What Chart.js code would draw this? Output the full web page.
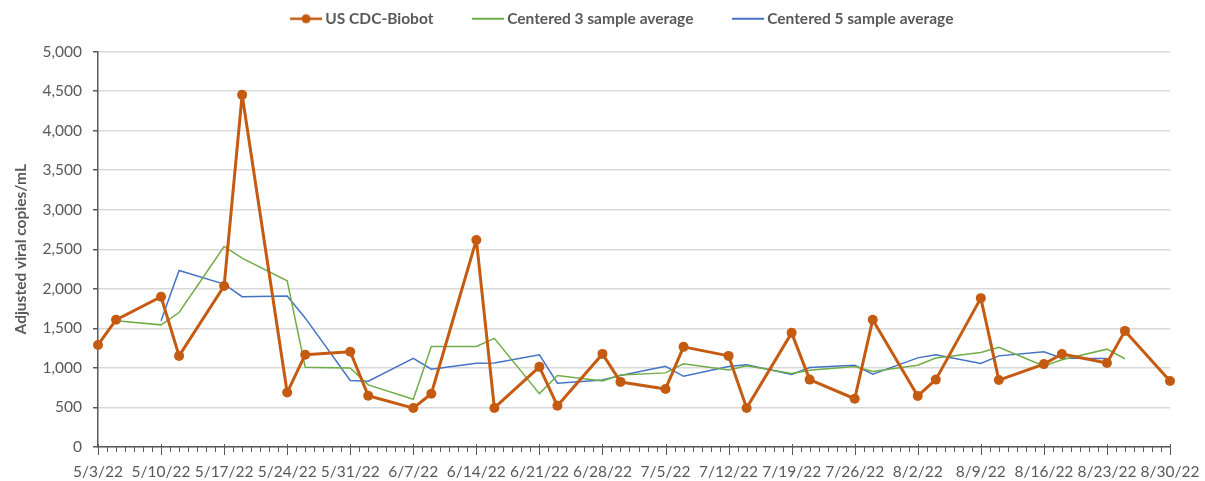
<!DOCTYPE html>
<html>
<head>
<meta charset="utf-8">
<script src="https://cdn.jsdelivr.net/npm/chart.js@4.4.1/dist/chart.umd.min.js"></script>
<style>
  html, body { margin: 0; padding: 0; background: #fff; }
  #wrap { width: 1205px; height: 481px; }
</style>
</head>
<body>
<div id="wrap"><canvas id="chart"></canvas></div>
<script>
// sample dates (Tue / Thu collections)
const sampleDates = ['5/3/22','5/5/22','5/10/22','5/12/22','5/17/22','5/19/22','5/24/22','5/26/22',
  '5/31/22','6/2/22','6/7/22','6/9/22','6/14/22','6/16/22','6/21/22','6/23/22','6/28/22','6/30/22',
  '7/5/22','7/7/22','7/12/22','7/14/22','7/19/22','7/21/22','7/26/22','7/28/22','8/2/22','8/4/22',
  '8/9/22','8/11/22','8/16/22','8/18/22','8/23/22','8/25/22','8/30/22'];

const biobot = [1290,1608,1899,1152,2035,4452,688,1167,1205,648,492,673,2618,494,1013,521,1177,823,
  734,1266,1152,494,1443,852,610,1608,646,852,1882,846,1048,1175,1063,1468,835];

const avg3 = [null,1595,1544,1700,2535,2388,2101,1009,1000,785,604,1270,1270,1373,675,903,835,910,
  937,1053,973,1028,930,970,1018,954,1034,1125,1194,1260,1025,1103,1237,1116,null];

const avg5 = [null,null,1597,2232,2059,1900,1909,1632,842,831,1122,983,1058,1063,1165,806,848,904,
  1021,894,1018,1041,917,1004,1034,920,1127,1165,1055,1152,1203,1121,1119,null,null];

const weekLabels = ['5/3/22','5/10/22','5/17/22','5/24/22','5/31/22','6/7/22','6/14/22','6/21/22',
  '6/28/22','7/5/22','7/12/22','7/19/22','7/26/22','8/2/22','8/9/22','8/16/22','8/23/22','8/30/22'];

const startDay = Date.UTC(2022, 4, 3);
function dayOf(s) {
  const p = s.split('/');
  return Math.round((Date.UTC(2000 + +p[2], +p[0] - 1, +p[1]) - startDay) / 86400000);
}
const days = sampleDates.map(dayOf);
const pts = arr => arr.map((v, i) => ({ x: days[i], y: v })).filter(p => p.y !== null);

const ORANGE = '#C55A11', GREEN = '#70AD47', BLUE = '#4472C4', GREY = '#595959';
const FONT = 'Lato, "Open Sans", sans-serif';

// legend box is wide, the icon sits at its right end so it hugs the text
const BOX_W = 66;
function legendIcon(color, lw, dot) {
  const c = document.createElement('canvas');
  c.width = BOX_W + 9; c.height = 12;
  const g = c.getContext('2d');
  const x0 = c.width - 32;
  g.strokeStyle = color; g.lineWidth = lw;
  g.beginPath(); g.moveTo(x0, 6); g.lineTo(c.width, 6); g.stroke();
  if (dot) {
    g.fillStyle = color;
    g.beginPath(); g.arc(x0 + 16, 6, 4.5, 0, Math.PI * 2); g.fill();
  }
  return c;
}

// x axis tick marks: short ones for days, longer ones for weeks
const dayTicks = {
  id: 'dayTicks',
  afterDraw(chart) {
    const x = chart.scales.x;
    const ctx = chart.ctx;
    const y0 = chart.chartArea.bottom;
    ctx.save();
    ctx.strokeStyle = GREY;
    ctx.lineWidth = 1;
    x.ticks.forEach(t => {
      const px = Math.round(x.getPixelForValue(t.value)) + 0.5;
      const major = t.value % 7 === 0;
      ctx.beginPath();
      ctx.moveTo(px, y0 - (major ? 3 : 0));
      ctx.lineTo(px, y0 + (major ? 8 : 5));
      ctx.stroke();
    });
    ctx.restore();
  }
};

new Chart(document.getElementById('chart'), {
  type: 'line',
  data: {
    datasets: [
      {
        label: 'US CDC-Biobot',
        data: pts(biobot),
        borderColor: ORANGE,
        backgroundColor: ORANGE,
        borderWidth: 3,
        borderJoinStyle: 'round',
        pointRadius: 5,
        pointBackgroundColor: ORANGE,
        pointBorderWidth: 0,
        clip: false,
        order: 0
      },
      {
        label: 'Centered 3 sample average',
        data: pts(avg3),
        borderColor: GREEN,
        backgroundColor: GREEN,
        borderWidth: 1.5,
        pointRadius: 0,
        order: 1
      },
      {
        label: 'Centered 5 sample average',
        data: pts(avg5),
        borderColor: BLUE,
        backgroundColor: BLUE,
        borderWidth: 1.5,
        pointRadius: 0,
        order: 2
      }
    ]
  },
  options: {
    responsive: true,
    maintainAspectRatio: false,
    animation: false,
    layout: { padding: { left: 0, right: 0, top: 11, bottom: 0 } },
    plugins: {
      tooltip: { enabled: false },
      // empty title used only as a gap between legend and plot
      title: {
        display: true,
        text: '',
        weight: 100,
        font: { size: 1, lineHeight: 1 },
        padding: { top: 0, bottom: 14 }
      },
      legend: {
        position: 'top',
        labels: {
          usePointStyle: true,
          pointStyleWidth: BOX_W,
          padding: 0,
          color: GREY,
          font: { family: FONT, size: 15.5, weight: 'bold' },
          generateLabels: chart => chart.data.datasets.map((ds, i) => ({
            text: ds.label,
            fontColor: GREY,
            pointStyle: legendIcon(ds.borderColor, i === 0 ? 2.5 : 2, i === 0),
            datasetIndex: i,
            lineWidth: 0
          }))
        }
      }
    },
    scales: {
      x: {
        type: 'linear',
        min: 0,
        max: 119,
        afterFit: s => { s.height = 34; s.paddingRight = 35; },
        grid: { drawOnChartArea: false, drawTicks: false },
        border: { color: GREY, width: 1.5 },
        ticks: {
          stepSize: 1,
          autoSkip: false,
          maxRotation: 0,
          padding: 16,
          color: GREY,
          font: { family: FONT, size: 15.5 },
          callback: v => (v % 7 === 0 ? weekLabels[v / 7] : '')
        }
      },
      y: {
        min: 0,
        max: 5000,
        afterFit: s => { s.width = 98; },
        grid: { color: '#d9d9d9', lineWidth: 1.5, tickLength: 5, tickColor: GREY },
        border: { color: GREY, width: 1.5 },
        ticks: {
          stepSize: 500,
          padding: 11,
          color: GREY,
          font: { family: FONT, size: 15.5 },
          callback: v => v.toLocaleString('en-US')
        },
        title: {
          display: true,
          text: 'Adjusted viral copies/mL',
          color: GREY,
          font: { family: FONT, size: 15.5, weight: 'bold' },
          padding: { top: 12, bottom: 0 }
        }
      }
    }
  },
  plugins: [dayTicks]
});
</script>
</body>
</html>
